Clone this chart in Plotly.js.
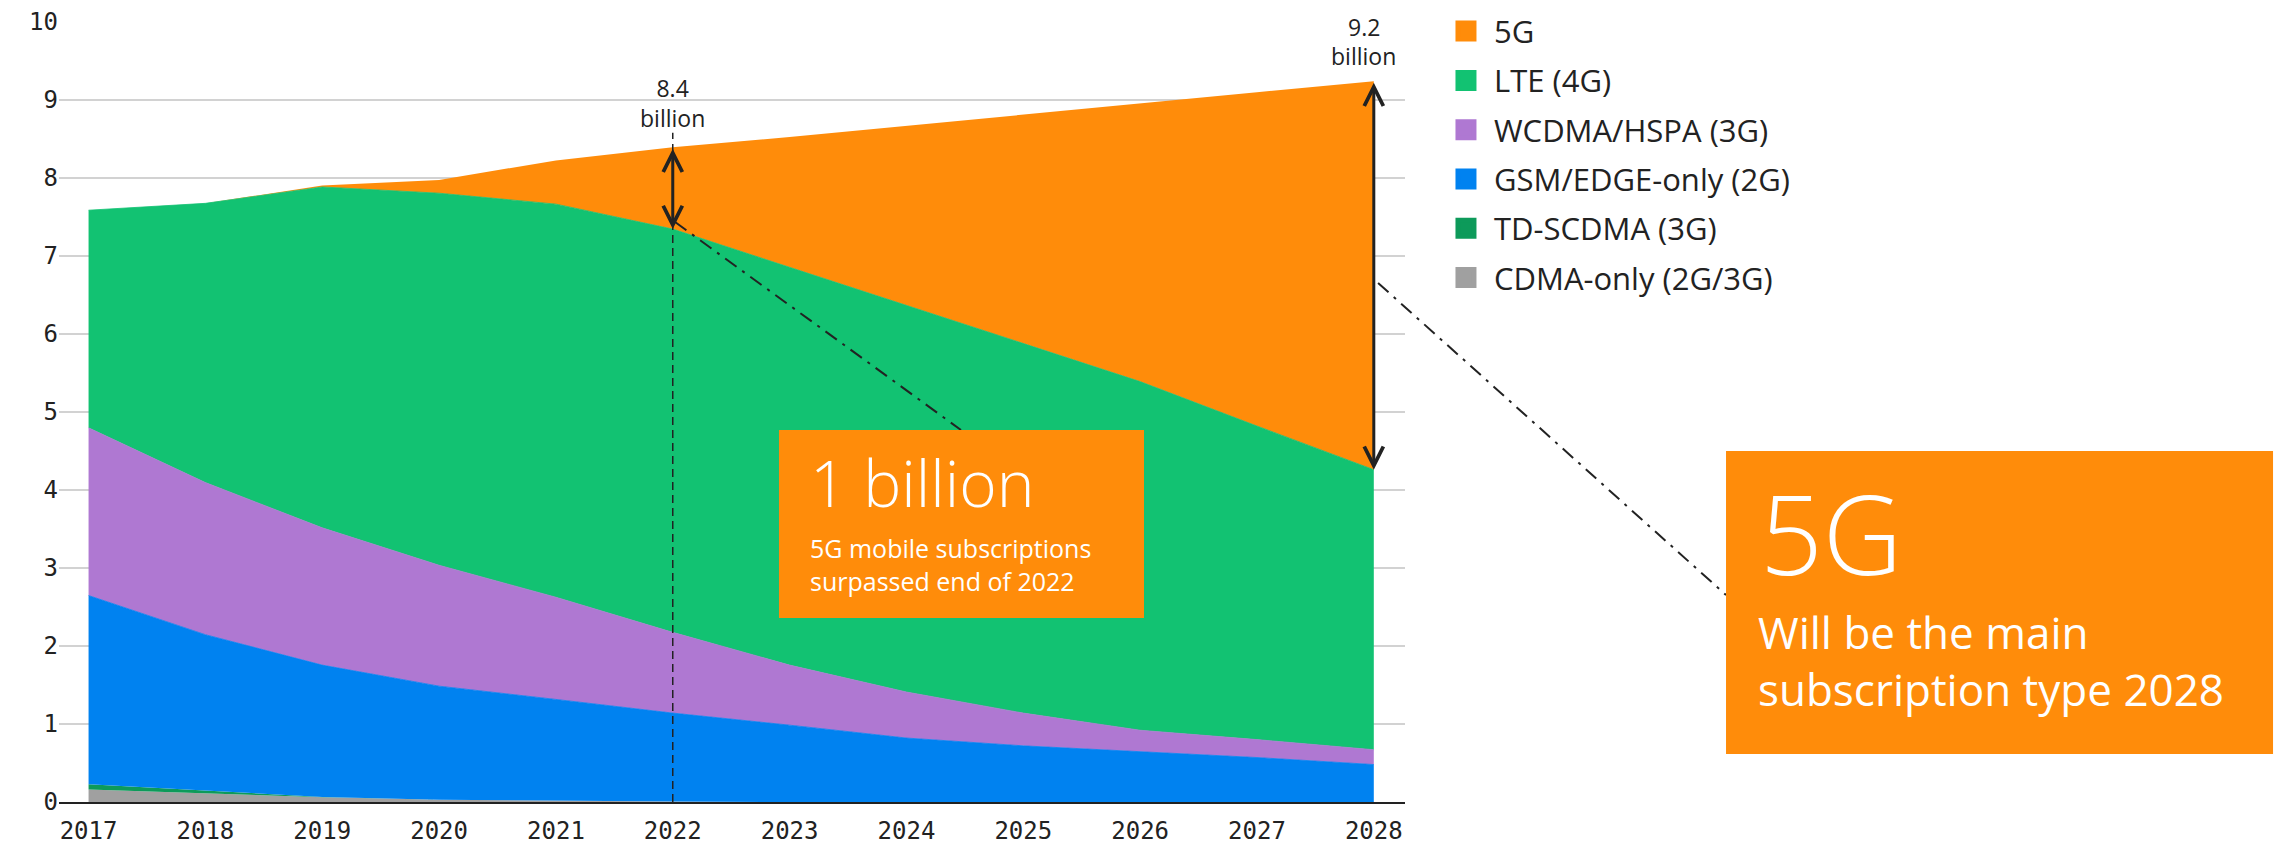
<!DOCTYPE html>
<html>
<head>
<meta charset="utf-8">
<script src="https://cdn.plot.ly/plotly-3.0.1.min.js"></script>
<style>
html,body{margin:0;padding:0;background:#fff;}
#chart{width:2277px;height:844px;}
</style>
</head>
<body>
<div id="chart"></div>
<script>
// ---- data (billions of mobile subscriptions) ----
const years = [2017, 2018, 2019, 2020, 2021, 2022, 2023, 2024, 2025, 2026, 2027, 2028];
const cdmaOnly = [0.16, 0.11, 0.06, 0.03, 0.015, 0.005, 0, 0, 0, 0, 0, 0];
const tdScdma  = [0.067, 0.035, 0.005, 0, 0, 0, 0, 0, 0, 0, 0, 0];
const gsmEdge  = [2.42, 2.00, 1.69, 1.455, 1.30, 1.135, 0.985, 0.82, 0.72, 0.645, 0.57, 0.48];
const wcdmaHspa = [2.15, 1.95, 1.76, 1.55, 1.31, 1.035, 0.77, 0.59, 0.42, 0.275, 0.23, 0.19];
const lte4g    = [2.79, 3.58, 4.37, 4.77, 5.04, 5.17, 5.10, 4.96, 4.74, 4.47, 4.02, 3.59];
const fiveG    = [0, 0, 0.02, 0.17, 0.56, 1.05, 1.67, 2.30, 2.93, 3.57, 4.28, 4.98];

const seriesNames = ['CDMA-only (2G/3G)', 'TD-SCDMA (3G)', 'GSM/EDGE-only (2G)', 'WCDMA/HSPA (3G)', 'LTE (4G)', '5G'];
const seriesValues = [cdmaOnly, tdScdma, gsmEdge, wcdmaHspa, lte4g, fiveG];
const seriesColors = ['#a0a0a0', '#0d9a5a', '#0082f0', '#af78d2', '#12c272', '#ff8c0a'];
const seriesLine = [0, 0, 0.8, 0.8, 0.8, 0];

const xTickLabels = years.map(String);
const yTickVals = [0, 1, 2, 3, 4, 5, 6, 7, 8, 9, 10];

const noteTotal2022 = '8.4<br>billion';
const noteTotal2028 = ['9.2', 'billion'];
const box1Big = '1 billion';
const box1Small = '5G mobile subscriptions<br>surpassed end of 2022';
const box2Big = '5G';
const box2Small = 'Will be the main<br>subscription type 2028';

// ---- traces ----
const traces = [];
seriesNames.forEach((name, i) => {
  traces.push({
    type: 'scatter', mode: 'lines', x: years, y: seriesValues[i], name: name,
    stackgroup: 'one', fillcolor: seriesColors[i],
    line: {color: seriesColors[i], width: seriesLine[i], shape: 'linear'},
    showlegend: false, hoverinfo: 'x+y+name'
  });
});
// legend entries (square swatches), listed top to bottom
for (let i = seriesNames.length - 1; i >= 0; i--) {
  traces.push({
    type: 'scatter', mode: 'markers', x: [null], y: [null], name: seriesNames[i],
    legendgroup: 'g' + i, showlegend: true, hoverinfo: 'skip',
    marker: {symbol: 'square', size: 16, color: seriesColors[i], line: {color: seriesColors[i], width: 5}}
  });
}

// totals from the data
const total = years.map((_, k) => seriesValues.reduce((s, arr) => s + arr[k], 0));
const below5G = years.map((_, k) => total[k] - fiveG[k]);
const i22 = years.indexOf(2022), i28 = years.indexOf(2028);

const orange = '#ff8c0a';
const ink = '#222222';
const textFont = 'Open Sans, Roboto, sans-serif';

const annotations = [
  // double-headed arrows
  {x: 2022, y: below5G[i22], ax: 2022, ay: total[i22], xref: 'x', yref: 'y', axref: 'x', ayref: 'y',
   text: '', showarrow: true, arrowside: 'end+start', arrowhead: 5, startarrowhead: 5,
   arrowsize: 1.25, startarrowsize: 1.25, arrowwidth: 3, arrowcolor: ink, standoff: 0, startstandoff: 0},
  {x: 2028, y: below5G[i28], ax: 2028, ay: total[i28], xref: 'x', yref: 'y', axref: 'x', ayref: 'y',
   text: '', showarrow: true, arrowside: 'end+start', arrowhead: 5, startarrowhead: 5,
   arrowsize: 1.25, startarrowsize: 1.25, arrowwidth: 3, arrowcolor: ink, standoff: 0, startstandoff: 0},
  // value labels
  {x: 2022, y: 0.8962, xref: 'x', yref: 'paper', text: noteTotal2022, showarrow: false,
   xanchor: 'center', yanchor: 'middle', font: {family: textFont, size: 23, color: ink}},
  {x: 0.9695, y: 0.9936, xref: 'paper', yref: 'paper', text: noteTotal2028[0], showarrow: false,
   xanchor: 'center', yanchor: 'middle', font: {family: textFont, size: 23, color: ink}},
  {x: 0.9695, y: 0.9564, xref: 'paper', yref: 'paper', text: noteTotal2028[1], showarrow: false,
   xanchor: 'center', yanchor: 'middle', font: {family: textFont, size: 23, color: ink}},
  // box 1 texts
  {x: 0.5565, y: 0.409, xref: 'paper', yref: 'paper', text: box1Big, showarrow: false,
   xanchor: 'left', yanchor: 'middle', font: {family: textFont, size: 64, color: '#ffffff', weight: 300}},
  {x: 0.5565, y: 0.3051, xref: 'paper', yref: 'paper', text: box1Small, showarrow: false, align: 'left',
   xanchor: 'left', yanchor: 'middle', font: {family: textFont, size: 25, color: '#ffffff'}},
  // box 2 texts
  {x: 1.2625, y: 0.3462, xref: 'paper', yref: 'paper', text: box2Big, showarrow: false,
   xanchor: 'left', yanchor: 'middle', font: {family: textFont, size: 110, color: '#ffffff', weight: 300}},
  {x: 1.2605, y: 0.1814, xref: 'paper', yref: 'paper', text: box2Small, showarrow: false, align: 'left',
   xanchor: 'left', yanchor: 'middle', font: {family: textFont, size: 44, color: '#ffffff'}}
];

const shapes = [
  // white patches breaking the gridlines behind the value labels
  {type: 'rect', xref: 'paper', yref: 'paper', x0: 0.4235, x1: 0.4874, y0: 0.855, y1: 0.935,
   fillcolor: '#ffffff', line: {width: 0}, layer: 'between'},
  {type: 'rect', xref: 'paper', yref: 'paper', x0: 0.9487, x1: 0.9933, y0: 0.975, y1: 1.02,
   fillcolor: '#ffffff', line: {width: 0}, layer: 'between'},
  // dashed vertical guide at 2022
  {type: 'line', xref: 'x', yref: 'y', x0: 2022, x1: 2022, y0: 0, y1: 8.58,
   line: {color: ink, width: 1.5, dash: '8px,5px'}, layer: 'above'},
  // dash-dot leader lines
  {type: 'line', xref: 'paper', yref: 'paper', x0: 0.4577, y0: 0.7436, x1: 0.6701, y1: 0.4769,
   line: {color: ink, width: 2, dash: '14px,7px,3px,7px'}, layer: 'above'},
  {type: 'line', xref: 'paper', yref: 'paper', x0: 0.980, y0: 0.6654, x1: 1.2385, y1: 0.2654,
   line: {color: ink, width: 2, dash: '14px,7px,3px,7px'}, layer: 'above'},
  // callout boxes
  {type: 'rect', xref: 'paper', yref: 'paper', x0: 0.5349, x1: 0.8061, y0: 0.2359, y1: 0.4769,
   fillcolor: orange, line: {width: 0}, layer: 'above'},
  {type: 'rect', xref: 'paper', yref: 'paper', x0: 1.2385, x1: 1.6449, y0: 0.0615, y1: 0.45,
   fillcolor: orange, line: {width: 0}, layer: 'above'}
];

const layout = {
  width: 2277, height: 844,
  margin: {l: 59, r: 872, t: 22, b: 42, pad: 0, autoexpand: false},
  paper_bgcolor: '#ffffff', plot_bgcolor: '#ffffff',
  showlegend: true,
  legend: {x: 1.0245, xanchor: 'left', y: 1.0225, yanchor: 'top',
           font: {family: textFont, size: 31, color: ink},
           itemwidth: 46, tracegroupgap: 6, traceorder: 'grouped',
           bgcolor: 'rgba(0,0,0,0)', borderwidth: 0},
  xaxis: {range: [2016.747, 2028.267], tickmode: 'array', tickvals: years, ticktext: xTickLabels,
          showgrid: false, zeroline: false, showline: true, linecolor: ink, linewidth: 2,
          ticks: '', ticklabelstandoff: 6, automargin: false,
          tickfont: {family: 'DejaVu Sans Mono', size: 24, color: ink}, fixedrange: true},
  yaxis: {range: [0, 10], tickmode: 'array', tickvals: yTickVals, ticktext: yTickVals.map(String),
          showgrid: true, gridcolor: '#d2d2d2', gridwidth: 2, zeroline: false, showline: false,
          ticks: '', automargin: false,
          tickfont: {family: 'DejaVu Sans Mono', size: 24, color: ink}, fixedrange: true},
  annotations: annotations,
  shapes: shapes,
  hovermode: false
};

Plotly.newPlot('chart', traces, layout, {displayModeBar: false, staticPlot: true});
</script>
</body>
</html>
